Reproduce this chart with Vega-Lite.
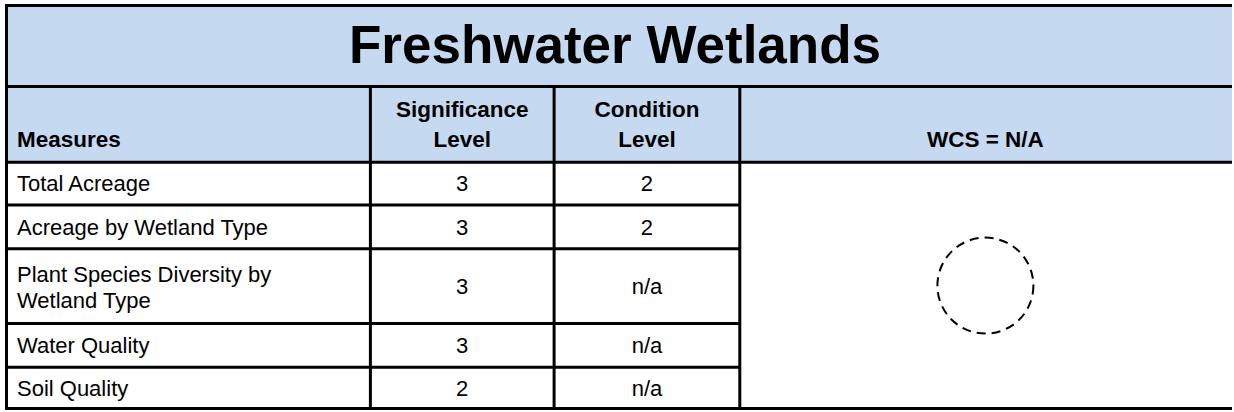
{
  "$schema": "https://vega.github.io/schema/vega-lite/v6.json",
  "width": 1234,
  "height": 412,
  "autosize": {"type": "fit", "contains": "padding"},
  "padding": 0,
  "background": "white",
  "config": {"view": {"stroke": null}, "axis": {"disable": true}},
  "datasets": {
    "bands": [
      {"part": "header", "x1": 5, "x2": 1234, "y1": 5, "y2": 163}
    ],
    "lines": [
      {"x1": 5, "x2": 1234, "y1": 5.5, "y2": 5.5},
      {"x1": 5, "x2": 1234, "y1": 87, "y2": 87},
      {"x1": 5, "x2": 1234, "y1": 163, "y2": 163},
      {"x1": 5, "x2": 741, "y1": 206, "y2": 206},
      {"x1": 5, "x2": 741, "y1": 250, "y2": 250},
      {"x1": 5, "x2": 741, "y1": 325, "y2": 325},
      {"x1": 5, "x2": 741, "y1": 369, "y2": 369},
      {"x1": 5, "x2": 1234, "y1": 410.5, "y2": 410.5},
      {"x1": 6.5, "x2": 6.5, "y1": 4, "y2": 412},
      {"x1": 371, "x2": 371, "y1": 87, "y2": 412},
      {"x1": 555, "x2": 555, "y1": 87, "y2": 412},
      {"x1": 741, "x2": 741, "y1": 87, "y2": 412}
    ],
    "texts": [
      {"role": "title", "x": 616, "y": 63, "label": "Freshwater Wetlands"},
      {"role": "headLeft", "x": 17, "y": 148, "label": "Measures"},
      {"role": "head", "x": 463, "y": 118, "label": "Significance"},
      {"role": "head", "x": 463, "y": 148, "label": "Level"},
      {"role": "head", "x": 648, "y": 118, "label": "Condition"},
      {"role": "head", "x": 648, "y": 148, "label": "Level"},
      {"role": "head", "x": 987, "y": 148, "label": "WCS = N/A"},
      {"role": "measure", "x": 17, "y": 192, "label": "Total Acreage"},
      {"role": "measure", "x": 17, "y": 236, "label": "Acreage by Wetland Type"},
      {"role": "measure", "x": 17, "y": 283, "label": "Plant Species Diversity by"},
      {"role": "measure", "x": 17, "y": 310, "label": "Wetland Type"},
      {"role": "measure", "x": 17, "y": 355, "label": "Water Quality"},
      {"role": "measure", "x": 17, "y": 398, "label": "Soil Quality"},
      {"role": "value", "x": 463, "y": 192, "label": "3"},
      {"role": "value", "x": 463, "y": 236, "label": "3"},
      {"role": "value", "x": 463, "y": 295, "label": "3"},
      {"role": "value", "x": 463, "y": 355, "label": "3"},
      {"role": "value", "x": 463, "y": 398, "label": "2"},
      {"role": "value", "x": 648, "y": 192, "label": "2"},
      {"role": "value", "x": 648, "y": 236, "label": "2"},
      {"role": "value", "x": 648, "y": 295, "label": "n/a"},
      {"role": "value", "x": 648, "y": 355, "label": "n/a"},
      {"role": "value", "x": 648, "y": 398, "label": "n/a"}
    ],
    "score": [
      {"x": 987, "y": 287, "wcs": "N/A"}
    ]
  },
  "layer": [
    {
      "data": {"name": "bands"},
      "mark": {"type": "rect", "color": "#C5D9F1"},
      "encoding": {
        "x": {"field": "x1", "type": "quantitative", "scale": {"domain": [0, 1234], "nice": false, "zero": false}},
        "x2": {"field": "x2"},
        "y": {"field": "y1", "type": "quantitative", "scale": {"domain": [0, 412], "nice": false, "zero": false, "reverse": true}},
        "y2": {"field": "y2"}
      }
    },
    {
      "data": {"name": "score"},
      "mark": {"type": "point", "shape": "circle", "filled": false, "size": 9216, "stroke": "black", "strokeWidth": 2, "opacity": 1, "strokeOpacity": 1, "strokeDash": [9, 6]},
      "encoding": {
        "x": {"field": "x", "type": "quantitative"},
        "y": {"field": "y", "type": "quantitative"}
      }
    },
    {
      "data": {"name": "lines"},
      "mark": {"type": "rule", "color": "black", "strokeWidth": 3},
      "encoding": {
        "x": {"field": "x1", "type": "quantitative"},
        "x2": {"field": "x2"},
        "y": {"field": "y1", "type": "quantitative"},
        "y2": {"field": "y2"}
      }
    },
    {
      "data": {"name": "texts"},
      "transform": [{"filter": "datum.role === 'title'"}],
      "mark": {"type": "text", "font": "Liberation Sans", "fontWeight": "bold", "fontSize": 53, "align": "center", "baseline": "alphabetic", "color": "black"},
      "encoding": {
        "x": {"field": "x", "type": "quantitative"},
        "y": {"field": "y", "type": "quantitative"},
        "text": {"field": "label"}
      }
    },
    {
      "data": {"name": "texts"},
      "transform": [{"filter": "datum.role === 'head'"}],
      "mark": {"type": "text", "font": "Liberation Sans", "fontWeight": "bold", "fontSize": 22.5, "align": "center", "baseline": "alphabetic", "color": "black"},
      "encoding": {
        "x": {"field": "x", "type": "quantitative"},
        "y": {"field": "y", "type": "quantitative"},
        "text": {"field": "label"}
      }
    },
    {
      "data": {"name": "texts"},
      "transform": [{"filter": "datum.role === 'headLeft'"}],
      "mark": {"type": "text", "font": "Liberation Sans", "fontWeight": "bold", "fontSize": 22.5, "align": "left", "baseline": "alphabetic", "color": "black"},
      "encoding": {
        "x": {"field": "x", "type": "quantitative"},
        "y": {"field": "y", "type": "quantitative"},
        "text": {"field": "label"}
      }
    },
    {
      "data": {"name": "texts"},
      "transform": [{"filter": "datum.role === 'measure'"}],
      "mark": {"type": "text", "font": "Liberation Sans", "fontSize": 22, "align": "left", "baseline": "alphabetic", "color": "black"},
      "encoding": {
        "x": {"field": "x", "type": "quantitative"},
        "y": {"field": "y", "type": "quantitative"},
        "text": {"field": "label"}
      }
    },
    {
      "data": {"name": "texts"},
      "transform": [{"filter": "datum.role === 'value'"}],
      "mark": {"type": "text", "font": "Liberation Sans", "fontSize": 22, "align": "center", "baseline": "alphabetic", "color": "black"},
      "encoding": {
        "x": {"field": "x", "type": "quantitative"},
        "y": {"field": "y", "type": "quantitative"},
        "text": {"field": "label"}
      }
    }
  ]
}
